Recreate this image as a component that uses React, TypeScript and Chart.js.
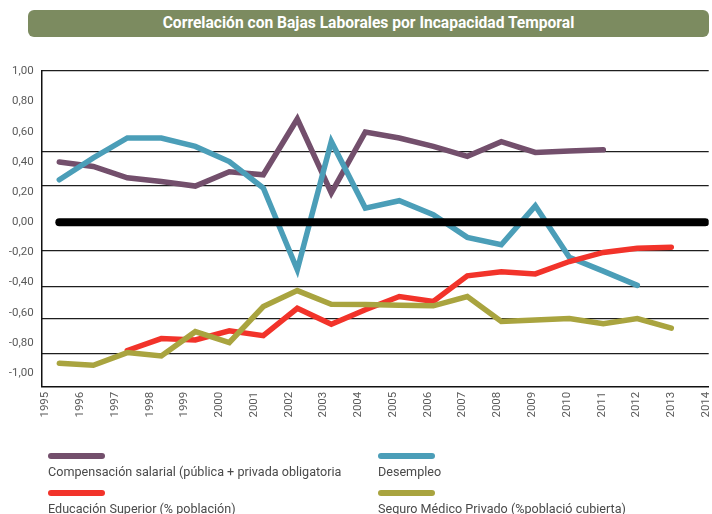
import React, { useEffect, useRef } from "react";
import { Chart, registerables } from "chart.js";

Chart.register(...registerables);

const TITLE = "Correlación con Bajas Laborales por Incapacidad Temporal";

const YEARS = [1995, 1996, 1997, 1998, 1999, 2000, 2001, 2002, 2003, 2004, 2005, 2006, 2007, 2008, 2009, 2010, 2011, 2012, 2013];
const TICK_YEARS = [1995, 1996, 1997, 1998, 1999, 2000, 2001, 2002, 2003, 2004, 2005, 2006, 2007, 2008, 2009, 2010, 2011, 2012, 2013, 2014];

const COMPENSACION = [0.40, 0.37, 0.295, 0.27, 0.24, 0.335, 0.315, 0.685, 0.195, 0.598, 0.559, 0.503, 0.437, 0.534, 0.463, 0.472, 0.481, null, null];
const DESEMPLEO = [0.282, 0.427, 0.559, 0.559, 0.503, 0.403, 0.227, -0.315, 0.536, 0.094, 0.143, 0.05, -0.1, -0.149, 0.109, -0.232, -0.324, -0.418, null];
const EDUCACION = [null, null, -0.85, -0.771, -0.78, -0.72, -0.752, -0.57, -0.676, -0.58, -0.492, -0.525, -0.355, -0.328, -0.342, -0.26, -0.2, -0.172, -0.165];
const SEGURO = [-0.934, -0.948, -0.864, -0.886, -0.725, -0.797, -0.559, -0.453, -0.543, -0.545, -0.55, -0.554, -0.492, -0.658, -0.647, -0.638, -0.673, -0.638, -0.702];

const ZERO_YEARS = [1995, 2014];
const ZERO_VALUES = [0, 0];

const Y_TICKS = [1, 0.8, 0.6, 0.4, 0.2, 0, -0.2, -0.4, -0.6, -0.8, -1];
const GRID_VALUES = [1.005, 0.47, 0.244, -0.191, -0.43, -0.636, -0.868];

const SERIES_NAMES = [
  "Compensación salarial (pública + privada obligatoria",
  "Desempleo",
  "Educación Superior (% población)",
  "Seguro Médico Privado (%poblaci\u00f3 cubierta)",
];
const SERIES_COLORS = ["#734f6c", "#4b9eb8", "#f2332a", "#a9a43f"];

const FONT = "Roboto, 'Noto Sans', sans-serif";

const toPoints = (vals: (number | null)[], xs: number[]) => xs.map((x, i) => ({ x, y: vals[i] }));

export default function App() {
  const ref = useRef<HTMLCanvasElement | null>(null);

  useEffect(() => {
    document.body.style.margin = "0";
    if (!ref.current) return;
    const lineDs = (label: string, vals: (number | null)[], color: string) => ({
      label,
      data: toPoints(vals, YEARS),
      borderColor: color,
      backgroundColor: color,
      borderWidth: 5.5,
      pointRadius: 0,
      borderCapStyle: "round" as const,
      borderJoinStyle: "miter" as const,
      tension: 0,
      spanGaps: false,
      xAxisID: "xd",
      yAxisID: "y",
    });
    const chart = new Chart(ref.current, {
      type: "line",
      data: {
        datasets: [
          {
            label: "cero",
            data: toPoints(ZERO_VALUES, ZERO_YEARS),
            borderColor: "#000000",
            borderWidth: 8,
            pointRadius: 0,
            borderCapStyle: "round",
            xAxisID: "xd",
            yAxisID: "y",
          },
          lineDs(SERIES_NAMES[3], SEGURO, SERIES_COLORS[3]),
          lineDs(SERIES_NAMES[2], EDUCACION, SERIES_COLORS[2]),
          lineDs(SERIES_NAMES[1], DESEMPLEO, SERIES_COLORS[1]),
          lineDs(SERIES_NAMES[0], COMPENSACION, SERIES_COLORS[0]),
        ] as any,
      },
      options: {
        animation: false,
        responsive: false,
        maintainAspectRatio: false,
        events: [],
        layout: { padding: { top: 70.7, left: 0, right: 3.3, bottom: 87.3 } },
        plugins: { legend: { display: false }, tooltip: { enabled: false }, title: { display: false } },
        scales: {
          x: {
            type: "linear",
            position: "bottom",
            min: 1994.89,
            max: 2014.08,
            afterBuildTicks: (s: any) => {
              s.ticks = TICK_YEARS.map((v) => ({ value: v }));
            },
            afterFit: (s: any) => {
              s.height = 40;
              s.paddingLeft = 0;
              s.paddingRight = 0;
            },
            grid: { display: false, drawTicks: false },
            border: { display: true, color: "#111111", width: 1.5 },
            ticks: {
              autoSkip: false,
              minRotation: 90,
              maxRotation: 90,
              padding: 5,
              color: "#5a5a5a",
              font: { family: FONT, size: 11.5 },
              callback: (v: any) => String(v),
            },
          },
          xd: {
            type: "linear",
            display: false,
            min: 1994.482,
            max: 2014.1,
          },
          y: {
            type: "linear",
            position: "left",
            min: -1.09,
            max: 1.005,
            afterBuildTicks: (s: any) => {
              s.ticks = Y_TICKS.map((v) => ({ value: v }));
            },
            afterFit: (s: any) => {
              s.width = 41.7;
              s.paddingTop = 0;
              s.paddingBottom = 0;
            },
            grid: { display: false, drawTicks: false },
            border: { display: true, color: "#111111", width: 1.5 },
            ticks: {
              padding: 8,
              color: "#5a5a5a",
              font: { family: FONT, size: 11.5 },
              callback: (v: any) => {
                const n = Math.abs(Number(v)) < 1e-9 ? 0 : Number(v);
                return n.toFixed(2).replace(".", ",");
              },
            },
          },
          yg: {
            type: "linear",
            position: "left",
            min: -1.09,
            max: 1.005,
            afterBuildTicks: (s: any) => {
              s.ticks = GRID_VALUES.map((v) => ({ value: v }));
            },
            afterFit: (s: any) => {
              s.width = 0;
              s.paddingTop = 0;
              s.paddingBottom = 0;
            },
            grid: { display: true, drawTicks: false, color: "#1e1e1e", lineWidth: 1.3 },
            border: { display: false },
            ticks: { display: false },
          },
        },
      } as any,
    });
    return () => chart.destroy();
  }, []);

  const legendPos = [
    { left: 48, top: 453 },
    { left: 378, top: 453 },
    { left: 48, top: 490 },
    { left: 378, top: 490 },
  ];

  return (
    <div style={{ position: "relative", width: 712, height: 514, overflow: "hidden", background: "#ffffff" }}>
      <canvas ref={ref} width={712} height={514} style={{ position: "absolute", left: 0, top: 0, width: 712, height: 514 }} />
      <div
        style={{
          position: "absolute",
          left: 28,
          top: 10,
          width: 681,
          height: 27,
          borderRadius: 6,
          background: "#7c8b60",
          color: "#ffffff",
          fontFamily: FONT,
          fontWeight: "bold",
          fontSize: 15.6,
          lineHeight: "27px",
          textAlign: "center",
        }}
      >
        {TITLE}
      </div>
      {SERIES_NAMES.map((name, i) => (
        <React.Fragment key={name}>
          <div
            style={{
              position: "absolute",
              left: legendPos[i].left,
              top: legendPos[i].top,
              width: 57,
              height: 6,
              borderRadius: 3,
              background: SERIES_COLORS[i],
            }}
          />
          <div
            style={{
              position: "absolute",
              left: legendPos[i].left,
              top: legendPos[i].top + 11,
              fontFamily: FONT,
              fontSize: 12.6,
              lineHeight: "16px",
              color: "#4a4a4a",
              whiteSpace: "nowrap",
            }}
          >
            {name}
          </div>
        </React.Fragment>
      ))}
    </div>
  );
}
